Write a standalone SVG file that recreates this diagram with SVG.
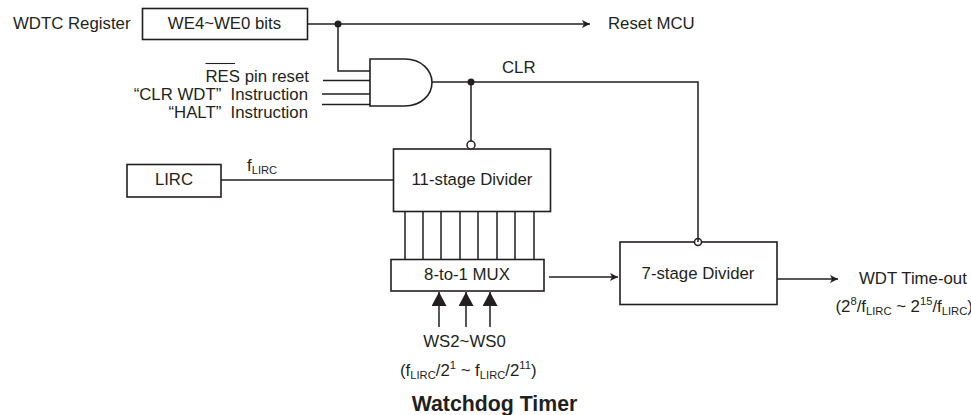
<svg xmlns="http://www.w3.org/2000/svg" width="971" height="415" viewBox="0 0 971 415">
<style>
text{font-family:"Liberation Sans",Arial,sans-serif;font-size:16.8px;fill:#231f20}
.m{text-anchor:middle}.e{text-anchor:end}
.s{font-size:11.2px}
.box{fill:#fff;stroke:#231f20;stroke-width:1.6}
.w{fill:none;stroke:#231f20;stroke-width:1.5}
.dot{fill:#231f20}
.bub{fill:#fff;stroke:#231f20;stroke-width:1.5}
</style>
<defs>
<marker id="a" viewBox="0 0 8 8" refX="8" refY="4" markerWidth="8" markerHeight="8" markerUnits="userSpaceOnUse" orient="auto"><path d="M0 0L8 4L0 8L2 4Z" fill="#231f20"/></marker>
<marker id="b" viewBox="0 0 15 16" refX="15" refY="8" markerWidth="15" markerHeight="15" markerUnits="userSpaceOnUse" orient="auto"><path d="M0 0L15 8L0 16Z" fill="#231f20"/></marker>
</defs>
<g id="wdtc-label"><text x="13" y="29.300">WDTC Register</text></g>
<g id="we-bits"><rect class="box" x="142.500" y="8.500" width="165" height="31"/><text class="m" x="224.500" y="29.300">WE4~WE0 bits</text></g>
<g id="reset-mcu"><text x="608" y="29">Reset MCU</text></g>
<g id="and-gate"><path class="box" d="M370 59H405C421 59 432 70 432 82.500C432 95 421 106 405 106H370Z"/></g>
<g id="inputs">
<text class="e" x="309" y="82">RES pin reset</text>
<path d="M205.500 63.500H235" fill="none" stroke="#231f20" stroke-width="1.100"/>
<text class="e" x="308" y="99.500">“CLR WDT”&#160;&#160;Instruction</text>
<text class="e" x="308" y="118">“HALT”&#160;&#160;Instruction</text>
</g>
<g id="clr-label"><text x="502" y="73">CLR</text></g>
<g id="lirc"><rect class="box" x="127" y="164.500" width="94" height="32.500"/><text class="m" x="174" y="185">LIRC</text></g>
<g id="flirc-label"><text x="247" y="171">f<tspan class="s" dy="3">LIRC</tspan></text></g>
<g id="divider-11"><rect class="box" x="393.500" y="149" width="157" height="62.500"/><text class="m" x="472" y="185">11-stage Divider</text><circle class="bub" cx="471" cy="145" r="4"/></g>
<g id="mux"><rect class="box" x="391" y="259.500" width="153" height="31.500"/><text class="m" x="467" y="280">8-to-1 MUX</text></g>
<g id="ws-label"><text class="m" x="464.500" y="347">WS2~WS0</text>
<text x="400" y="376">(f<tspan class="s" dy="3">LIRC</tspan><tspan dy="-3">/2</tspan><tspan class="s" dy="-7">1</tspan><tspan dy="7"> ~ f</tspan><tspan class="s" dy="3">LIRC</tspan><tspan dy="-3">/2</tspan><tspan class="s" dy="-7">11</tspan><tspan dy="7">)</tspan></text></g>
<g id="divider-7"><rect class="box" x="620" y="242" width="157" height="62.500"/><text class="m" x="698" y="279">7-stage Divider</text><circle class="bub" cx="698" cy="242" r="3.500"/></g>
<g id="wdt-timeout"><text x="859" y="284">WDT Time-out</text>
<text x="835.500" y="312">(2<tspan class="s" dy="-7">8</tspan><tspan dy="7">/f</tspan><tspan class="s" dy="3">LIRC</tspan><tspan dy="-3"> ~ 2</tspan><tspan class="s" dy="-7">15</tspan><tspan dy="7">/f</tspan><tspan class="s" dy="3">LIRC</tspan><tspan dy="-3">)</tspan></text></g>
<g id="title"><text class="m" x="494.500" y="411" style="font-size:21.300px;font-weight:bold">Watchdog Timer</text></g>
<g id="connectors">
<path class="w" d="M307 24H590" marker-end="url(#a)"/>
<path class="w" d="M338 24V71H370"/>
<path class="w" d="M323 80.500H370M322 94H370M322 104.500H370"/>
<path class="w" d="M432 82H698V242"/>
<path class="w" d="M471 82V141"/>
<path class="w" d="M221 180H393"/>
<path class="w" d="M405 211V260M423 211V260M441 211V260M460 211V260M478 211V260M497 211V260M515 211V260M534 211V260"/>
<path class="w" d="M549 277H618" marker-end="url(#a)"/>
<path class="w" d="M777 279H838" marker-end="url(#a)"/>
<path class="w" d="M439 327V292" marker-end="url(#b)"/>
<path class="w" d="M466 327V292" marker-end="url(#b)"/>
<path class="w" d="M490 327V292" marker-end="url(#b)"/>
<circle class="dot" cx="338" cy="24" r="3.500"/>
<circle class="dot" cx="471" cy="82" r="3.500"/>
</g>
</svg>
